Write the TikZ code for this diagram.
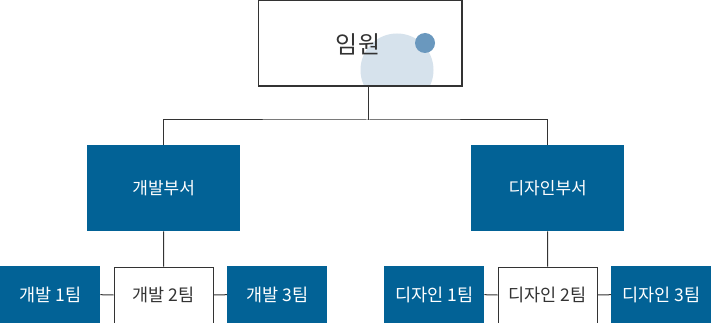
\documentclass[tikz,border=0pt]{standalone}
\usepackage{fontspec}
\setmainfont{Noto Sans CJK KR}
\definecolor{deptblue}{RGB}{2,98,150}
\definecolor{linegray}{RGB}{51,51,51}
\definecolor{bigcirc}{RGB}{214,226,236}
\definecolor{smallcirc}{RGB}{106,152,190}
\begin{document}
\begin{tikzpicture}[x=1pt,y=-1pt,
  bluebox/.style={draw=none,fill=deptblue,text=white,inner sep=0pt,anchor=north west},
  whitebox/.style={draw=linegray,line width=1pt,fill=white,text=linegray,inner sep=0pt,anchor=north west},
  conn/.style={draw=linegray,line width=1pt}]
\useasboundingbox (0,0) rectangle (711,323);
% top box
\node[whitebox,minimum width=203pt,minimum height=85pt] (top) at (258,0.5) {};
\begin{scope}
\clip (258.5,1) rectangle (460.5,85);
\fill[bigcirc] (397,70) circle (36.5);
\end{scope}
\fill[smallcirc] (425,43) circle (10);
\draw[linegray,line width=1pt] (top.north west) rectangle (top.south east);
\node[text=linegray,font=\fontsize{24}{28}\selectfont] (toplabel) at (358,44) {임원};
% departments
\node[bluebox,minimum width=153pt,minimum height=86pt,font=\fontsize{17}{20}\selectfont] (dev) at (87,145) {개발부서};
\node[bluebox,minimum width=153pt,minimum height=86pt,font=\fontsize{17}{20}\selectfont] (des) at (471,145) {디자인부서};
% teams
\tikzset{team/.style={minimum width=100pt,minimum height=57pt,font=\fontsize{17.5}{20}\selectfont}}
\node[bluebox,team] (d1) at (0,266) {개발 1팀};
\node[whitebox,team,minimum width=99pt,minimum height=56pt] (d2) at (113.5,266.5) {개발 2팀};
\node[bluebox,team] (d3) at (227,266) {개발 3팀};
\node[bluebox,team] (s1) at (384,266) {디자인 1팀};
\node[whitebox,team,minimum width=99pt,minimum height=56pt] (s2) at (497.5,266.5) {디자인 2팀};
\node[bluebox,team] (s3) at (611,266) {디자인 3팀};
% connectors
\coordinate (mid) at (368,120);
\draw[conn] (368,85) -- (mid);
\draw[conn] (dev.north) |- (mid) -| (des.north);
\draw[conn] (dev.south) -- (d2.north);
\draw[conn] (des.south) -- (s2.north);
\draw[conn] (d1.east) -- (d2.west);
\draw[conn] (d2.east) -- (d3.west);
\draw[conn] (s1.east) -- (s2.west);
\draw[conn] (s2.east) -- (s3.west);
\end{tikzpicture}
\end{document}
